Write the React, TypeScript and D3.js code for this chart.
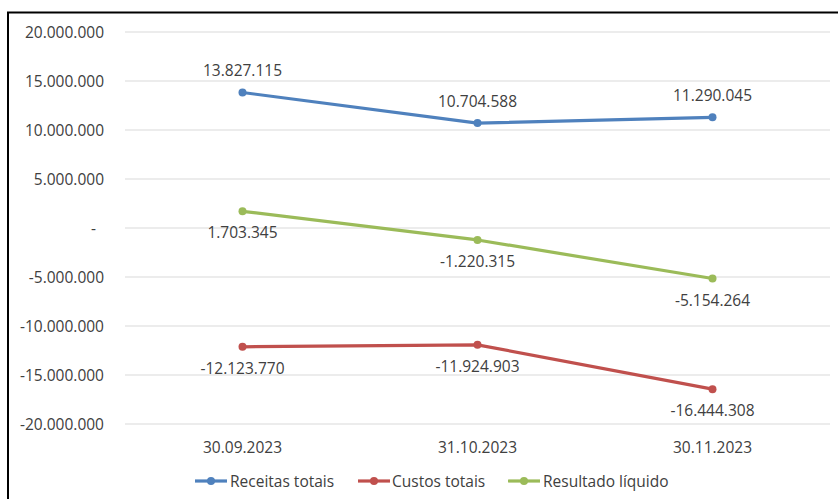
import React from "react";
import * as d3 from "d3";

const categories = ["30.09.2023", "31.10.2023", "30.11.2023"];
const receitas = [13827115, 10704588, 11290045];
const custos = [-12123770, -11924903, -16444308];
const resultado = [1703345, -1220315, -5154264];
const yTicks = [20000000, 15000000, 10000000, 5000000, 0, -5000000, -10000000, -15000000, -20000000];
const seriesNames = ["Receitas totais", "Custos totais", "Resultado líquido"];
const seriesColors = ["#4F81BD", "#C0504D", "#9BBB59"];
const labelPlacement = ["above", "below", "below"];

const W = 838;
const H = 499;
const plotLeft = 125;
const plotRight = 830;
const plotTop = 32;
const plotBottom = 424;
const FONT = "'Open Sans', 'Liberation Sans', sans-serif";
const TEXT = "#404040";
const FS = 15.5;

const fmt = (v: number) => {
  if (v === 0) return "-";
  const s = Math.abs(Math.round(v)).toString().replace(/\B(?=(\d{3})+(?!\d))/g, ".");
  return (v < 0 ? "-" : "") + s;
};

export default function App() {
  const x = d3.scaleBand<string>().domain(categories).range([plotLeft, plotRight]);
  const y = d3.scaleLinear().domain([-20000000, 20000000]).range([plotBottom, plotTop]);
  const cx = (c: string) => (x(c) as number) + x.bandwidth() / 2;
  const line = d3
    .line<number>()
    .x((_, i) => cx(categories[i]))
    .y((d) => y(d));
  const allSeries = [receitas, custos, resultado];
  const legendItems = [
    { lx: 195, tx: 230 },
    { lx: 358, tx: 392 },
    { lx: 508, tx: 543 },
  ];
  return (
    <svg
      width={W}
      height={H}
      style={{ position: "absolute", left: 0, top: 0, background: "#fff" }}
      fontFamily={FONT}
    >
      <rect x={0} y={0} width={W} height={H} fill="#fff" />
      <rect x={8} y={12.5} width={W + 20} height={H + 20} fill="none" stroke="#000" strokeWidth={2} />
      {yTicks.map((t) => (
        <g key={t}>
          <line x1={plotLeft} x2={plotRight} y1={y(t)} y2={y(t)} stroke="#D9D9D9" strokeWidth={1.2} />
          <text
            x={t === 0 ? 96 : 104}
            y={y(t) + 5.5}
            textAnchor="end"
            fontSize={FS}
            fill={TEXT}
          >
            {fmt(t)}
          </text>
        </g>
      ))}
      {categories.map((c) => (
        <text key={c} x={cx(c)} y={452.5} textAnchor="middle" fontSize={FS} fill={TEXT}>
          {c}
        </text>
      ))}
      {allSeries.map((s, si) => (
        <g key={si}>
          <path d={line(s) || ""} fill="none" stroke={seriesColors[si]} strokeWidth={3.2} strokeLinejoin="round" />
          {s.map((v, i) => (
            <circle key={i} cx={cx(categories[i])} cy={y(v)} r={4} fill={seriesColors[si]} />
          ))}
          {s.map((v, i) => (
            <text
              key={"l" + i}
              x={cx(categories[i])}
              y={labelPlacement[si] === "above" ? y(v) - 16 : y(v) + 27}
              textAnchor="middle"
              fontSize={FS}
              fill={TEXT}
            >
              {fmt(v)}
            </text>
          ))}
        </g>
      ))}
      {legendItems.map((li, i) => (
        <g key={i}>
          <line x1={li.lx} x2={li.lx + 32} y1={481} y2={481} stroke={seriesColors[i]} strokeWidth={3.2} />
          <circle cx={li.lx + 16} cy={481} r={4} fill={seriesColors[i]} />
          <text x={li.tx} y={486.5} fontSize={FS} fill={TEXT}>
            {seriesNames[i]}
          </text>
        </g>
      ))}
    </svg>
  );
}
